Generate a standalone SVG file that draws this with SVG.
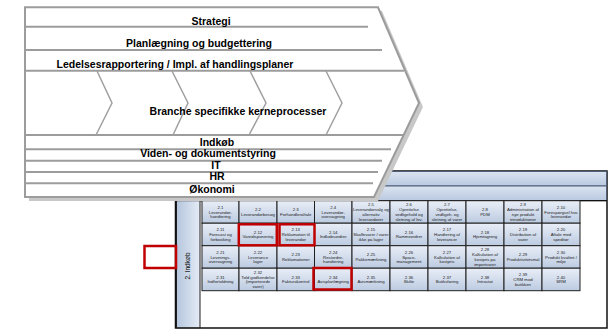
<svg xmlns="http://www.w3.org/2000/svg" width="615" height="331" viewBox="0 0 615 331">
<defs>
<linearGradient id="cellg" x1="0" y1="0" x2="0" y2="1"><stop offset="0" stop-color="#e9eef7"/><stop offset="1" stop-color="#bccbe1"/></linearGradient>
<linearGradient id="bandg" x1="0" y1="0" x2="0" y2="1"><stop offset="0" stop-color="#dbe4f1"/><stop offset="1" stop-color="#b9c9e0"/></linearGradient>
<linearGradient id="colg" x1="0" y1="0" x2="1" y2="0"><stop offset="0" stop-color="#b5c6de"/><stop offset="1" stop-color="#e4ebf5"/></linearGradient>
</defs>
<style>
.cell{fill:url(#cellg);stroke:#1e1e1e;stroke-width:1}
.band{fill:url(#bandg);stroke:#4f5f78;stroke-width:1}
.ct{font-family:"Liberation Sans",Arial,sans-serif;font-size:4.3px;fill:#222;text-anchor:middle}
.pt{font-family:"Liberation Sans",Arial,sans-serif;font-size:10.5px;font-weight:bold;fill:#000;text-anchor:middle}
.pl{stroke:#9c9c9c;stroke-width:2;fill:none}
.ch{stroke:#a0a0a0;stroke-width:1.5;fill:none}
.red{fill:none;stroke:#c00000;stroke-width:2.5}
</style>
<rect width="615" height="331" fill="#fff"/>

<g id="table">
<rect x="175.5" y="171" width="431.5" height="157" fill="#fff" stroke="#111" stroke-width="1.5"/>
<rect class="band" x="176" y="171.5" width="430.5" height="14.5"/>
<rect class="band" x="176" y="186" width="430.5" height="14.7"/>
<line x1="175.5" y1="200.7" x2="607" y2="200.7" stroke="#111" stroke-width="1.2"/>
</g>

<g id="col-indkob">
<rect x="176.5" y="200.7" width="23.5" height="127" fill="url(#colg)" stroke="#1e1e1e" stroke-width="1"/>
<text class="pt" style="font-size:6.5px;font-weight:normal" transform="translate(190,266) rotate(-90)">2. Indkøb</text>
</g>

<g id="cells">
<g id="c2-1"><rect class="cell" x="202" y="200.7" width="37" height="22.5"/><text class="ct" x="220.5" y="208.7">2.1</text><text class="ct" x="220.5" y="213.5">Leverandør-</text><text class="ct" x="220.5" y="218.3">håndtering</text></g>
<g id="c2-2"><rect class="cell" x="239" y="200.7" width="38" height="22.5"/><text class="ct" x="258" y="211.1">2.2</text><text class="ct" x="258" y="215.9">Leverandørbesøg</text></g>
<g id="c2-3"><rect class="cell" x="277" y="200.7" width="37.5" height="22.5"/><text class="ct" x="295.75" y="211.1">2.3</text><text class="ct" x="295.75" y="215.9">Forhandleraftale</text></g>
<g id="c2-4"><rect class="cell" x="314.5" y="200.7" width="37.5" height="22.5"/><text class="ct" x="333.25" y="208.7">2.4</text><text class="ct" x="333.25" y="213.5">Leverandør-</text><text class="ct" x="333.25" y="218.3">overvågning</text></g>
<g id="c2-5"><rect class="cell" x="352" y="200.7" width="38" height="22.5"/><text class="ct" x="371" y="206.3">2.5</text><text class="ct" x="371" y="211.1">Leverandørvalg og</text><text class="ct" x="371" y="215.9">alternativ</text><text class="ct" x="371" y="220.7">leverandører</text></g>
<g id="c2-6"><rect class="cell" x="390" y="200.7" width="38" height="22.5"/><text class="ct" x="409" y="206.3">2.6</text><text class="ct" x="409" y="211.1">Oprettelse</text><text class="ct" x="409" y="215.9">vedligehold og</text><text class="ct" x="409" y="220.7">sletning af lev.</text></g>
<g id="c2-7"><rect class="cell" x="428" y="200.7" width="38" height="22.5"/><text class="ct" x="447" y="206.3">2.7</text><text class="ct" x="447" y="211.1">Oprettelse,</text><text class="ct" x="447" y="215.9">vedligeh. og</text><text class="ct" x="447" y="220.7">sletning af varer</text></g>
<g id="c2-8"><rect class="cell" x="466" y="200.7" width="38" height="22.5"/><text class="ct" x="485" y="211.1">2.8</text><text class="ct" x="485" y="215.9">PDM</text></g>
<g id="c2-9"><rect class="cell" x="504" y="200.7" width="38" height="22.5"/><text class="ct" x="523" y="206.3">2.9</text><text class="ct" x="523" y="211.1">Administration af</text><text class="ct" x="523" y="215.9">nye produkt</text><text class="ct" x="523" y="220.7">introduktioner</text></g>
<g id="c2-10"><rect class="cell" x="542" y="200.7" width="38" height="22.5"/><text class="ct" x="561" y="208.7">2.10</text><text class="ct" x="561" y="213.5">Forespørgsel hos</text><text class="ct" x="561" y="218.3">leverandør</text></g>

<g id="c2-11"><rect class="cell" x="202" y="223.2" width="37" height="22.5"/><text class="ct" x="220.5" y="231.2">2.11</text><text class="ct" x="220.5" y="236">Forecast og</text><text class="ct" x="220.5" y="240.8">forbooking</text></g>
<g id="c2-12"><rect class="cell" x="239" y="223.2" width="38" height="22.5"/><text class="ct" x="258" y="233.6">2.12</text><text class="ct" x="258" y="238.4">Varedisponering</text></g>
<g id="c2-13"><rect class="cell" x="277" y="223.2" width="37.5" height="22.5"/><text class="ct" x="295.75" y="231.2">2.13</text><text class="ct" x="295.75" y="236">Reklamation til</text><text class="ct" x="295.75" y="240.8">leverandør</text></g>
<g id="c2-14"><rect class="cell" x="314.5" y="223.2" width="37.5" height="22.5"/><text class="ct" x="333.25" y="233.6">2.14</text><text class="ct" x="333.25" y="238.4">Indkøbsordrer</text></g>
<g id="c2-15"><rect class="cell" x="352" y="223.2" width="38" height="22.5"/><text class="ct" x="371" y="231.2">2.15</text><text class="ct" x="371" y="236">Skaffevarer / varer</text><text class="ct" x="371" y="240.8">ikke på lager</text></g>
<g id="c2-16"><rect class="cell" x="390" y="223.2" width="38" height="22.5"/><text class="ct" x="409" y="233.6">2.16</text><text class="ct" x="409" y="238.4">Rammeordrer</text></g>
<g id="c2-17"><rect class="cell" x="428" y="223.2" width="38" height="22.5"/><text class="ct" x="447" y="231.2">2.17</text><text class="ct" x="447" y="236">Håndtering af</text><text class="ct" x="447" y="240.8">leverancer</text></g>
<g id="c2-18"><rect class="cell" x="466" y="223.2" width="38" height="22.5"/><text class="ct" x="485" y="233.6">2.18</text><text class="ct" x="485" y="238.4">Hjemtagning</text></g>
<g id="c2-19"><rect class="cell" x="504" y="223.2" width="38" height="22.5"/><text class="ct" x="523" y="231.2">2.19</text><text class="ct" x="523" y="236">Distribution af</text><text class="ct" x="523" y="240.8">varer</text></g>
<g id="c2-20"><rect class="cell" x="542" y="223.2" width="38" height="22.5"/><text class="ct" x="561" y="231.2">2.20</text><text class="ct" x="561" y="236">Aftale med</text><text class="ct" x="561" y="240.8">speditør</text></g>

<g id="c2-21"><rect class="cell" x="202" y="245.7" width="37" height="22.5"/><text class="ct" x="220.5" y="253.7">2.21</text><text class="ct" x="220.5" y="258.5">Leverings-</text><text class="ct" x="220.5" y="263.3">overvågning</text></g>
<g id="c2-22"><rect class="cell" x="239" y="245.7" width="38" height="22.5"/><text class="ct" x="258" y="253.7">2.22</text><text class="ct" x="258" y="258.5">Leverance</text><text class="ct" x="258" y="263.3">lager</text></g>
<g id="c2-23"><rect class="cell" x="277" y="245.7" width="37.5" height="22.5"/><text class="ct" x="295.75" y="256.1">2.23</text><text class="ct" x="295.75" y="260.9">Reklamationer</text></g>
<g id="c2-24"><rect class="cell" x="314.5" y="245.7" width="37.5" height="22.5"/><text class="ct" x="333.25" y="253.7">2.24</text><text class="ct" x="333.25" y="258.5">Restordre-</text><text class="ct" x="333.25" y="263.3">håndtering</text></g>
<g id="c2-25"><rect class="cell" x="352" y="245.7" width="38" height="22.5"/><text class="ct" x="371" y="256.1">2.25</text><text class="ct" x="371" y="260.9">Pakkemærkning</text></g>
<g id="c2-26"><rect class="cell" x="390" y="245.7" width="38" height="22.5"/><text class="ct" x="409" y="253.7">2.26</text><text class="ct" x="409" y="258.5">Space-</text><text class="ct" x="409" y="263.3">management</text></g>
<g id="c2-27"><rect class="cell" x="428" y="245.7" width="38" height="22.5"/><text class="ct" x="447" y="253.7">2.27</text><text class="ct" x="447" y="258.5">Kalkulation af</text><text class="ct" x="447" y="263.3">kostpris</text></g>
<g id="c2-28"><rect class="cell" x="466" y="245.7" width="38" height="22.5"/><text class="ct" x="485" y="251.3">2.28</text><text class="ct" x="485" y="256.1">Kalkulation af</text><text class="ct" x="485" y="260.9">kostpris på</text><text class="ct" x="485" y="265.7">importvarer</text></g>
<g id="c2-29"><rect class="cell" x="504" y="245.7" width="38" height="22.5"/><text class="ct" x="523" y="256.1">2.29</text><text class="ct" x="523" y="260.9">Produktivitetsmål</text></g>
<g id="c2-30"><rect class="cell" x="542" y="245.7" width="38" height="22.5"/><text class="ct" x="561" y="253.7">2.30</text><text class="ct" x="561" y="258.5">Produkt kvalitet /</text><text class="ct" x="561" y="263.3">miljø</text></g>

<g id="c2-31"><rect class="cell" x="202" y="268.2" width="37" height="22.5"/><text class="ct" x="220.5" y="278.6">2.31</text><text class="ct" x="220.5" y="283.4">Indfortoldning</text></g>
<g id="c2-32"><rect class="cell" x="239" y="268.2" width="38" height="22.5"/><text class="ct" x="258" y="273.8">2.32</text><text class="ct" x="258" y="278.6">Told godkendelse</text><text class="ct" x="258" y="283.4">(importerede</text><text class="ct" x="258" y="288.2">varer)</text></g>
<g id="c2-33"><rect class="cell" x="277" y="268.2" width="37.5" height="22.5"/><text class="ct" x="295.75" y="278.6">2.33</text><text class="ct" x="295.75" y="283.4">Fakturakontrol</text></g>
<g id="c2-34"><rect class="cell" x="314.5" y="268.2" width="37.5" height="22.5"/><text class="ct" x="333.25" y="278.6">2.34</text><text class="ct" x="333.25" y="283.4">Avisplanlægning</text></g>
<g id="c2-35"><rect class="cell" x="352" y="268.2" width="38" height="22.5"/><text class="ct" x="371" y="278.6">2.35</text><text class="ct" x="371" y="283.4">Avismærkning</text></g>
<g id="c2-36"><rect class="cell" x="390" y="268.2" width="38" height="22.5"/><text class="ct" x="409" y="278.6">2.36</text><text class="ct" x="409" y="283.4">Skilte</text></g>
<g id="c2-37"><rect class="cell" x="428" y="268.2" width="38" height="22.5"/><text class="ct" x="447" y="278.6">2.37</text><text class="ct" x="447" y="283.4">Butiksføring</text></g>
<g id="c2-38"><rect class="cell" x="466" y="268.2" width="38" height="22.5"/><text class="ct" x="485" y="278.6">2.38</text><text class="ct" x="485" y="283.4">Intrastat</text></g>
<g id="c2-39"><rect class="cell" x="504" y="268.2" width="38" height="22.5"/><text class="ct" x="523" y="276.2">2.39</text><text class="ct" x="523" y="281">CRM mod</text><text class="ct" x="523" y="285.8">butikken</text></g>
<g id="c2-40"><rect class="cell" x="542" y="268.2" width="38" height="22.5"/><text class="ct" x="561" y="278.6">2.40</text><text class="ct" x="561" y="283.4">SRM</text></g>
</g>

<g id="highlights">
<rect class="red" x="238.8" y="224.3" width="38" height="21"/>
<rect class="red" x="279.5" y="224.3" width="35" height="21"/>
<rect class="red" x="313.5" y="268" width="38" height="21.5"/>
<rect class="red" x="144.5" y="246" width="31.5" height="22"/>
</g>

<g id="panel">
<path d="M29,11 L382,11 L423,107 L378,201 L29,201 Z" fill="#c8c8c8"/>
<path d="M25,7.3 L378,7.3 L419,103 L374,197 L25,197 Z" fill="#fff" stroke="#9c9c9c" stroke-width="2"/>
<line class="pl" x1="25" y1="26.7" x2="368" y2="26.7"/>
<line class="pl" x1="25" y1="50" x2="382" y2="50"/>
<line class="pl" x1="25" y1="70.7" x2="404" y2="70.7"/>
<line class="pl" x1="25" y1="135" x2="404" y2="135"/>
<line class="pl" x1="25" y1="149.3" x2="391" y2="149.3"/>
<line class="pl" x1="25" y1="160.7" x2="382" y2="160.7"/>
<line class="pl" x1="25" y1="172" x2="378" y2="172"/>
<line class="pl" x1="25" y1="183.3" x2="373" y2="183.3"/>
<path class="ch" d="M97,71 L112,103 L96,135"/>
<path class="ch" d="M172,71 L188,103 L173,135"/>
<path class="ch" d="M250,71 L266,103 L249,135"/>
<path class="ch" d="M326,71 L342,103 L326,135"/>
<text class="pt" x="211" y="24.5">Strategi</text>
<text class="pt" x="199" y="46.5">Planlægning og budgettering</text>
<text class="pt" x="175" y="67.5">Ledelsesrapportering / Impl. af handlingsplaner</text>
<text class="pt" x="238" y="114.5">Branche specifikke kerneprocesser</text>
<text class="pt" x="217" y="145.5">Indkøb</text>
<text class="pt" x="208" y="157">Viden- og dokumentstyring</text>
<text class="pt" x="216" y="168.5">IT</text>
<text class="pt" x="217" y="179.8">HR</text>
<text class="pt" x="212" y="193">Økonomi</text>
</g>
</svg>
